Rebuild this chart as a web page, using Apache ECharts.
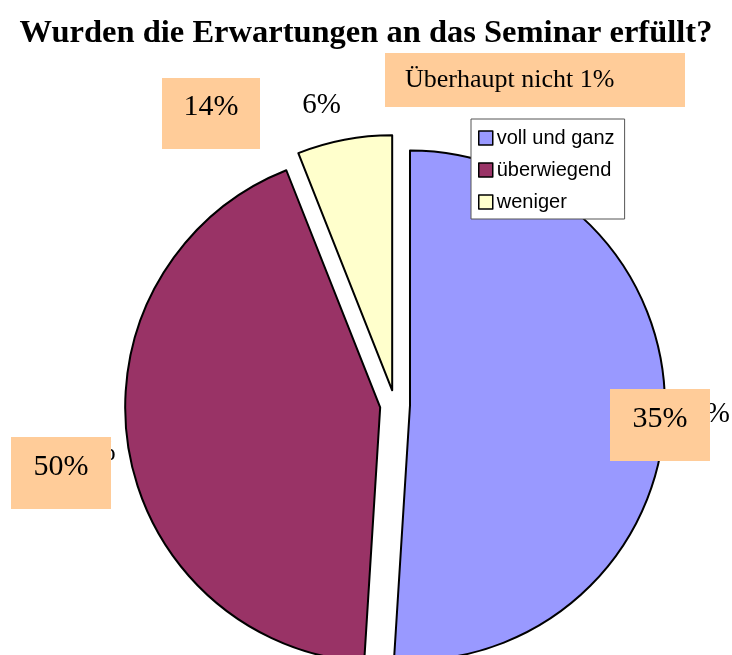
<!DOCTYPE html>
<html>
<head>
<meta charset="utf-8">
<script src="https://cdn.jsdelivr.net/npm/echarts@6/dist/echarts.min.js"></script>
<style>
  html, body { margin: 0; background: #fff; }
  #chart { width: 732px; height: 655px; }
</style>
</head>
<body>
<div id="chart"></div>
<script>
// data
var categories = ['voll und ganz', 'überwiegend', 'weniger'];
var values = [51, 43, 6];
var sliceColors = ['#9999FF', '#993366', '#FFFFCC'];
// the peach text boxes laid over the chart
var boxTexts = ['14%', 'Überhaupt nicht 1%', '35%', '50%'];

// fine tuning of where each pie label sits
var labelPull = [-28, -27, -8];
var boxLayout = [
    { x: 162, y: 78, w: 98, h: 71, size: 30, pad: 0 },
    { x: 385, y: 53, w: 300, h: 54, size: 26, pad: 20 },
    { x: 610, y: 389, w: 100, h: 72, size: 30, pad: 0 },
    { x: 11, y: 437, w: 100, h: 72, size: 30, pad: 0 }
];

var serif = '"Liberation Serif", "Times New Roman", serif';

var pieData = categories.map(function (name, i) {
    return {
        name: name,
        value: values[i],
        selected: true,
        itemStyle: { color: sliceColors[i] },
        select: { itemStyle: { color: sliceColors[i] } },
        labelLine: { show: false, length: 35, length2: labelPull[i] }
    };
});

var graphics = [];
boxTexts.forEach(function (txt, i) {
    var b = boxLayout[i];
    var centered = b.pad === 0;
    graphics.push({
        type: 'rect',
        z: 100,
        shape: { x: b.x, y: b.y, width: b.w, height: b.h },
        style: { fill: '#FFCC99' }
    });
    graphics.push({
        type: 'text',
        z: 101,
        style: {
            text: txt,
            x: centered ? b.x + b.w / 2 : b.x + b.pad,
            y: centered ? b.y + b.h / 2 - 6 : b.y + b.h / 2,
            fill: '#000',
            font: b.size + 'px ' + serif,
            textAlign: centered ? 'center' : 'left',
            textVerticalAlign: 'middle'
        }
    });
});

var chart = echarts.init(document.getElementById('chart'));
chart.setOption({
    animation: false,
    backgroundColor: '#fff',
    title: {
        text: 'Wurden die Erwartungen an das Seminar erfüllt?',
        left: 'center',
        top: 12,
        textStyle: {
            fontFamily: serif,
            fontWeight: 'bold',
            fontSize: 32.5,
            color: '#000'
        }
    },
    legend: {
        orient: 'vertical',
        left: 471,
        top: 119,
        padding: [9, 10, 7, 7],
        itemGap: 12,
        itemWidth: 14,
        itemHeight: 14,
        icon: 'rect',
        backgroundColor: '#fff',
        borderColor: '#555',
        borderWidth: 1,
        borderRadius: 0,
        itemStyle: { borderColor: '#000', borderWidth: 1.5 },
        textStyle: {
            fontFamily: '"Liberation Sans", Arial, sans-serif',
            fontSize: 20,
            color: '#000',
            padding: [0, 0, 0, -1]
        },
        data: categories,
        selectedMode: false
    },
    series: [
        {
            type: 'pie',
            center: [395, 405],
            radius: 255,
            startAngle: 90,
            clockwise: true,
            selectedMode: 'multiple',
            selectedOffset: 15,
            avoidLabelOverlap: false,
            emphasis: { disabled: true },
            itemStyle: { borderColor: '#000', borderWidth: 2 },
            label: {
                show: true,
                position: 'outside',
                formatter: '{d}%',
                fontFamily: serif,
                fontSize: 29,
                color: '#000',
                bleedMargin: 0
            },
            data: pieData
        }
    ],
    graphic: graphics
});
</script>
</body>
</html>
